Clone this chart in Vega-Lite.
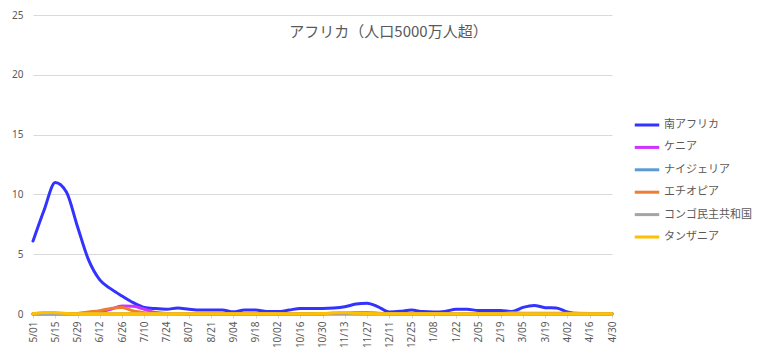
{
  "$schema": "https://vega.github.io/schema/vega-lite/v6.json",
  "autosize": {"type": "none"},
  "width": 579,
  "height": 299,
  "padding": {"left": 33, "top": 15, "right": 156, "bottom": 47},
  "background": "white",
  "title": {
    "text": "アフリカ（人口5000万人超）",
    "anchor": "middle",
    "orient": "top",
    "offset": -30,
    "dx": 66,
    "font": "Noto Sans CJK JP",
    "fontSize": 15,
    "fontWeight": "normal",
    "color": "#595959"
  },
  "data": {
    "values": [
      {"週": "5/01", "南アフリカ": 6.1, "ケニア": 0.02, "ナイジェリア": 0.01, "エチオピア": 0.02, "コンゴ民主共和国": 0.01, "タンザニア": 0.03},
      {"週": "5/08", "南アフリカ": 8.7, "ケニア": 0.02, "ナイジェリア": 0.01, "エチオピア": 0.02, "コンゴ民主共和国": 0.01, "タンザニア": 0.13},
      {"週": "5/15", "南アフリカ": 11.0, "ケニア": 0.02, "ナイジェリア": 0.01, "エチオピア": 0.02, "コンゴ民主共和国": 0.01, "タンザニア": 0.12},
      {"週": "5/22", "南アフリカ": 10.2, "ケニア": 0.02, "ナイジェリア": 0.01, "エチオピア": 0.03, "コンゴ民主共和国": 0.01, "タンザニア": 0.05},
      {"週": "5/29", "南アフリカ": 7.3, "ケニア": 0.03, "ナイジェリア": 0.01, "エチオピア": 0.05, "コンゴ民主共和国": 0.01, "タンザニア": 0.03},
      {"週": "6/05", "南アフリカ": 4.5, "ケニア": 0.06, "ナイジェリア": 0.01, "エチオピア": 0.17, "コンゴ民主共和国": 0.02, "タンザニア": 0.03},
      {"週": "6/12", "南アフリカ": 2.85, "ケニア": 0.15, "ナイジェリア": 0.01, "エチオピア": 0.28, "コンゴ民主共和国": 0.02, "タンザニア": 0.03},
      {"週": "6/19", "南アフリカ": 2.1, "ケニア": 0.4, "ナイジェリア": 0.01, "エチオピア": 0.47, "コンゴ民主共和国": 0.02, "タンザニア": 0.03},
      {"週": "6/26", "南アフリカ": 1.5, "ケニア": 0.67, "ナイジェリア": 0.01, "エチオピア": 0.55, "コンゴ民主共和国": 0.03, "タンザニア": 0.03},
      {"週": "7/03", "南アフリカ": 0.95, "ケニア": 0.64, "ナイジェリア": 0.01, "エチオピア": 0.25, "コンゴ民主共和国": 0.03, "タンザニア": 0.03},
      {"週": "7/10", "南アフリカ": 0.55, "ケニア": 0.4, "ナイジェリア": 0.01, "エチオピア": 0.11, "コンゴ民主共和国": 0.02, "タンザニア": 0.03},
      {"週": "7/17", "南アフリカ": 0.45, "ケニア": 0.12, "ナイジェリア": 0.01, "エチオピア": 0.05, "コンゴ民主共和国": 0.02, "タンザニア": 0.03},
      {"週": "7/24", "南アフリカ": 0.4, "ケニア": 0.05, "ナイジェリア": 0.01, "エチオピア": 0.04, "コンゴ民主共和国": 0.02, "タンザニア": 0.03},
      {"週": "7/31", "南アフリカ": 0.5, "ケニア": 0.04, "ナイジェリア": 0.01, "エチオピア": 0.03, "コンゴ民主共和国": 0.02, "タンザニア": 0.03},
      {"週": "8/07", "南アフリカ": 0.4, "ケニア": 0.03, "ナイジェリア": 0.01, "エチオピア": 0.03, "コンゴ民主共和国": 0.01, "タンザニア": 0.03},
      {"週": "8/14", "南アフリカ": 0.33, "ケニア": 0.03, "ナイジェリア": 0.01, "エチオピア": 0.03, "コンゴ民主共和国": 0.01, "タンザニア": 0.03},
      {"週": "8/21", "南アフリカ": 0.33, "ケニア": 0.03, "ナイジェリア": 0.01, "エチオピア": 0.02, "コンゴ民主共和国": 0.01, "タンザニア": 0.03},
      {"週": "8/28", "南アフリカ": 0.33, "ケニア": 0.02, "ナイジェリア": 0.01, "エチオピア": 0.02, "コンゴ民主共和国": 0.01, "タンザニア": 0.03},
      {"週": "9/04", "南アフリカ": 0.18, "ケニア": 0.02, "ナイジェリア": 0.01, "エチオピア": 0.02, "コンゴ民主共和国": 0.01, "タンザニア": 0.03},
      {"週": "9/11", "南アフリカ": 0.33, "ケニア": 0.02, "ナイジェリア": 0.01, "エチオピア": 0.02, "コンゴ民主共和国": 0.01, "タンザニア": 0.03},
      {"週": "9/18", "南アフリカ": 0.33, "ケニア": 0.02, "ナイジェリア": 0.01, "エチオピア": 0.02, "コンゴ民主共和国": 0.01, "タンザニア": 0.03},
      {"週": "9/25", "南アフリカ": 0.2, "ケニア": 0.02, "ナイジェリア": 0.01, "エチオピア": 0.02, "コンゴ民主共和国": 0.01, "タンザニア": 0.03},
      {"週": "10/02", "南アフリカ": 0.2, "ケニア": 0.02, "ナイジェリア": 0.01, "エチオピア": 0.02, "コンゴ民主共和国": 0.01, "タンザニア": 0.03},
      {"週": "10/09", "南アフリカ": 0.33, "ケニア": 0.02, "ナイジェリア": 0.01, "エチオピア": 0.02, "コンゴ民主共和国": 0.01, "タンザニア": 0.03},
      {"週": "10/16", "南アフリカ": 0.47, "ケニア": 0.02, "ナイジェリア": 0.01, "エチオピア": 0.02, "コンゴ民主共和国": 0.01, "タンザニア": 0.03},
      {"週": "10/23", "南アフリカ": 0.47, "ケニア": 0.02, "ナイジェリア": 0.01, "エチオピア": 0.02, "コンゴ民主共和国": 0.01, "タンザニア": 0.03},
      {"週": "10/30", "南アフリカ": 0.47, "ケニア": 0.03, "ナイジェリア": 0.01, "エチオピア": 0.02, "コンゴ民主共和国": 0.02, "タンザニア": 0.04},
      {"週": "11/06", "南アフリカ": 0.5, "ケニア": 0.05, "ナイジェリア": 0.01, "エチオピア": 0.02, "コンゴ民主共和国": 0.06, "タンザニア": 0.1},
      {"週": "11/13", "南アフリカ": 0.6, "ケニア": 0.08, "ナイジェリア": 0.01, "エチオピア": 0.02, "コンゴ民主共和国": 0.06, "タンザニア": 0.12},
      {"週": "11/20", "南アフリカ": 0.83, "ケニア": 0.1, "ナイジェリア": 0.01, "エチオピア": 0.02, "コンゴ民主共和国": 0.03, "タンザニア": 0.06},
      {"週": "11/27", "南アフリカ": 0.9, "ケニア": 0.1, "ナイジェリア": 0.01, "エチオピア": 0.02, "コンゴ民主共和国": 0.02, "タンザニア": 0.04},
      {"週": "12/04", "南アフリカ": 0.6, "ケニア": 0.07, "ナイジェリア": 0.01, "エチオピア": 0.02, "コンゴ民主共和国": 0.02, "タンザニア": 0.03},
      {"週": "12/11", "南アフリカ": 0.17, "ケニア": 0.03, "ナイジェリア": 0.01, "エチオピア": 0.02, "コンゴ民主共和国": 0.02, "タンザニア": 0.03},
      {"週": "12/18", "南アフリカ": 0.22, "ケニア": 0.03, "ナイジェリア": 0.01, "エチオピア": 0.03, "コンゴ民主共和国": 0.02, "タンザニア": 0.03},
      {"週": "12/25", "南アフリカ": 0.33, "ケニア": 0.03, "ナイジェリア": 0.01, "エチオピア": 0.04, "コンゴ民主共和国": 0.02, "タンザニア": 0.03},
      {"週": "1/01", "南アフリカ": 0.2, "ケニア": 0.03, "ナイジェリア": 0.01, "エチオピア": 0.04, "コンゴ民主共和国": 0.02, "タンザニア": 0.03},
      {"週": "1/08", "南アフリカ": 0.17, "ケニア": 0.02, "ナイジェリア": 0.01, "エチオピア": 0.03, "コンゴ民主共和国": 0.02, "タンザニア": 0.03},
      {"週": "1/15", "南アフリカ": 0.22, "ケニア": 0.02, "ナイジェリア": 0.01, "エチオピア": 0.03, "コンゴ民主共和国": 0.02, "タンザニア": 0.03},
      {"週": "1/22", "南アフリカ": 0.39, "ケニア": 0.02, "ナイジェリア": 0.01, "エチオピア": 0.03, "コンゴ民主共和国": 0.02, "タンザニア": 0.03},
      {"週": "1/29", "南アフリカ": 0.39, "ケニア": 0.02, "ナイジェリア": 0.01, "エチオピア": 0.03, "コンゴ民主共和国": 0.02, "タンザニア": 0.03},
      {"週": "2/05", "南アフリカ": 0.3, "ケニア": 0.02, "ナイジェリア": 0.01, "エチオピア": 0.03, "コンゴ民主共和国": 0.02, "タンザニア": 0.03},
      {"週": "2/12", "南アフリカ": 0.3, "ケニア": 0.02, "ナイジェリア": 0.01, "エチオピア": 0.03, "コンゴ民主共和国": 0.02, "タンザニア": 0.03},
      {"週": "2/19", "南アフリカ": 0.3, "ケニア": 0.02, "ナイジェリア": 0.01, "エチオピア": 0.03, "コンゴ民主共和国": 0.02, "タンザニア": 0.03},
      {"週": "2/26", "南アフリカ": 0.2, "ケニア": 0.02, "ナイジェリア": 0.01, "エチオピア": 0.08, "コンゴ民主共和国": 0.08, "タンザニア": 0.03},
      {"週": "3/05", "南アフリカ": 0.55, "ケニア": 0.02, "ナイジェリア": 0.01, "エチオピア": 0.07, "コンゴ民主共和国": 0.03, "タンザニア": 0.03},
      {"週": "3/12", "南アフリカ": 0.72, "ケニア": 0.02, "ナイジェリア": 0.01, "エチオピア": 0.07, "コンゴ民主共和国": 0.02, "タンザニア": 0.03},
      {"週": "3/19", "南アフリカ": 0.53, "ケニア": 0.02, "ナイジェリア": 0.01, "エチオピア": 0.06, "コンゴ民主共和国": 0.02, "タンザニア": 0.03},
      {"週": "3/26", "南アフリカ": 0.5, "ケニア": 0.02, "ナイジェリア": 0.01, "エチオピア": 0.06, "コンゴ民主共和国": 0.02, "タンザニア": 0.03},
      {"週": "4/02", "南アフリカ": 0.17, "ケニア": 0.02, "ナイジェリア": 0.01, "エチオピア": 0.06, "コンゴ民主共和国": 0.02, "タンザニア": 0.03},
      {"週": "4/09", "南アフリカ": 0.04, "ケニア": 0.02, "ナイジェリア": 0.01, "エチオピア": 0.06, "コンゴ民主共和国": 0.02, "タンザニア": 0.03},
      {"週": "4/16", "南アフリカ": 0.04, "ケニア": 0.02, "ナイジェリア": 0.01, "エチオピア": 0.05, "コンゴ民主共和国": 0.03, "タンザニア": 0.03},
      {"週": "4/23", "南アフリカ": 0.04, "ケニア": 0.02, "ナイジェリア": 0.01, "エチオピア": 0.03, "コンゴ民主共和国": 0.03, "タンザニア": 0.03},
      {"週": "4/30", "南アフリカ": 0.04, "ケニア": 0.02, "ナイジェリア": 0.01, "エチオピア": 0.03, "コンゴ民主共和国": 0.03, "タンザニア": 0.03}
    ]
  },
  "transform": [
    {"fold": ["南アフリカ", "ケニア", "ナイジェリア", "エチオピア", "コンゴ民主共和国", "タンザニア"], "as": ["国", "値"]}
  ],
  "mark": {"type": "line", "interpolate": "monotone", "strokeWidth": 3, "strokeCap": "round", "strokeJoin": "round"},
  "encoding": {
    "x": {
      "field": "週",
      "type": "ordinal",
      "sort": null,
      "scale": {"type": "point", "padding": 0},
      "axis": {
        "title": null,
        "values": ["5/01", "5/15", "5/29", "6/12", "6/26", "7/10", "7/24", "8/07", "8/21", "9/04", "9/18", "10/02", "10/16", "10/30", "11/13", "11/27", "12/11", "12/25", "1/08", "1/22", "2/05", "2/19", "3/05", "3/19", "4/02", "4/16", "4/30"],
        "labelAngle": -90,
        "labelFontSize": 10,
        "labelFont": "Noto Sans",
        "labelColor": "#595959",
        "labelPadding": 3,
        "domainColor": "#d9d9d9",
        "tickColor": "#d9d9d9",
        "tickSize": 4,
        "grid": false
      }
    },
    "y": {
      "field": "値",
      "type": "quantitative",
      "scale": {"domain": [0, 25]},
      "axis": {
        "title": null,
        "values": [0, 5, 10, 15, 20, 25],
        "domain": false,
        "ticks": false,
        "labelFontSize": 10,
        "labelFont": "Noto Sans",
        "labelColor": "#595959",
        "labelPadding": 10,
        "gridColor": "#d9d9d9",
        "gridWidth": 1
      }
    },
    "color": {
      "field": "国",
      "type": "nominal",
      "scale": {
        "domain": ["南アフリカ", "ケニア", "ナイジェリア", "エチオピア", "コンゴ民主共和国", "タンザニア"],
        "range": ["#3333FF", "#CC33FF", "#5B9BD5", "#ED7D31", "#A5A5A5", "#FFC000"]
      },
      "legend": {
        "title": null,
        "orient": "none",
        "legendX": 600,
        "legendY": 96,
        "symbolType": "stroke",
        "symbolSize": 600,
        "symbolStrokeWidth": 3,
        "labelFont": "Noto Sans CJK JP",
        "labelFontSize": 11,
        "labelColor": "#595959",
        "labelOffset": 3,
        "rowPadding": 2.4
      }
    }
  },
  "config": {
    "view": {"stroke": null}
  }
}
